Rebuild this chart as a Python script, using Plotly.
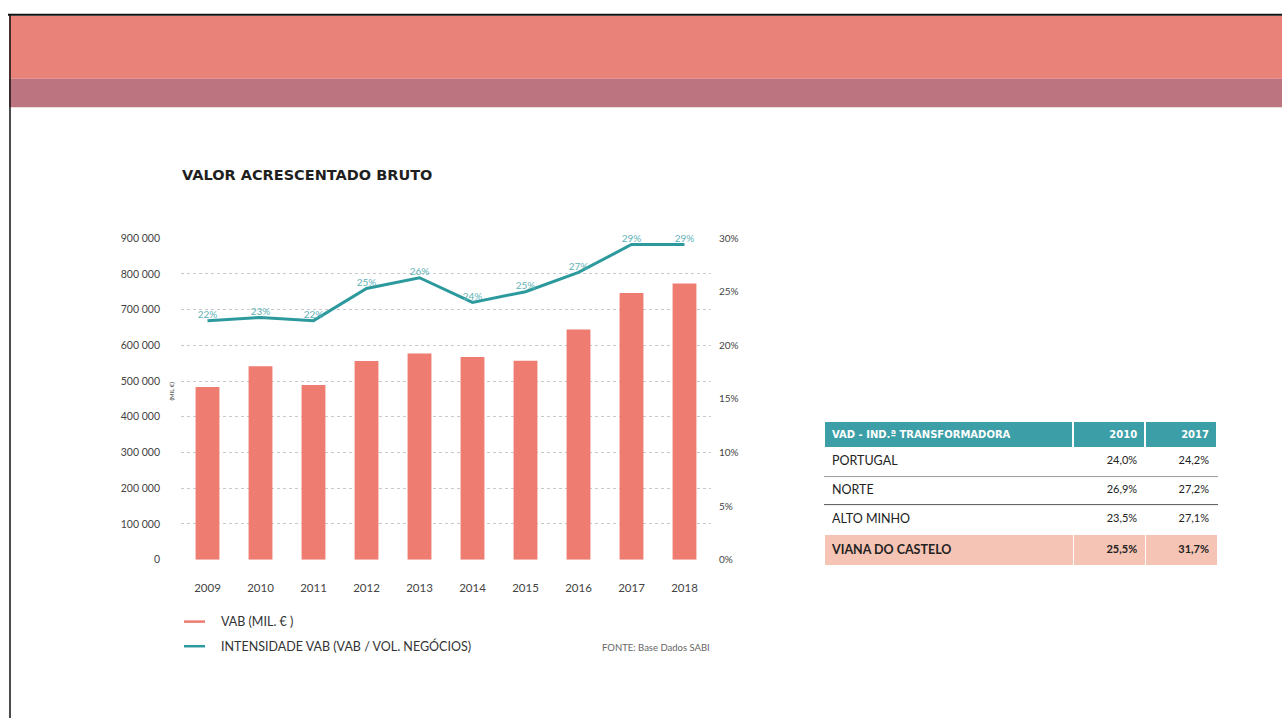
import plotly.graph_objects as go

# ---- data -------------------------------------------------------------
years = ["2009", "2010", "2011", "2012", "2013", "2014", "2015", "2016", "2017", "2018"]
vab_mil_eur = [483000, 541000, 489000, 556000, 577000, 567000, 557000, 644000, 746000, 773000]
intensidade_pct = [22.3, 22.6, 22.3, 25.3, 26.3, 24.0, 25.0, 26.8, 29.4, 29.4]

table_header = ["VAD - IND.ª TRANSFORMADORA", "2010", "2017"]
table_regions = ["PORTUGAL", "NORTE", "ALTO MINHO", "VIANA DO CASTELO"]
table_2010 = ["24,0%", "26,9%", "23,5%", "25,5%"]
table_2017 = ["24,2%", "27,2%", "27,1%", "31,7%"]

# ---- style ------------------------------------------------------------
W, H = 1282, 724
FONT = "Lato"
WIDE = "DejaVu Sans"
BAR = "#EE7C70"
LINE = "#2C9A9D"
LABEL = "#5FB2B7"
TEAL_HEAD = "#3C9FA7"
PINK_ROW = "#F6C4B4"
TEXT = "#333333"


def px(x):
    return x / W


def py(y):
    return 1 - y / H


fig = go.Figure()

fig.add_trace(go.Bar(
    x=years, y=vab_mil_eur, name="VAB (MIL. € )",
    marker=dict(color=BAR, line=dict(width=0)), width=0.45,
    showlegend=False, hoverinfo="x+y",
))

fig.add_trace(go.Scatter(
    x=years, y=intensidade_pct, yaxis="y2", name="INTENSIDADE VAB",
    mode="lines+text", line=dict(color=LINE, width=3),
    text=intensidade_pct, texttemplate="%{y:.0f}%", textposition="top center",
    textfont=dict(family=FONT, size=10, color=LABEL),
    cliponaxis=False, showlegend=False,
))

# side table
cell_fill = ["white", "white", "white", PINK_ROW]
fig.add_trace(go.Table(
    domain=dict(x=[px(824), px(1218)], y=[0, py(422)]),
    columnwidth=[250, 72, 72],
    header=dict(
        values=[f"<b>{h}</b>" for h in table_header],
        fill_color=TEAL_HEAD, line=dict(color="white", width=2),
        align=["left", "right", "right"], height=26,
        font=dict(family=WIDE, size=10, color="white"),
    ),
    cells=dict(
        values=[
            table_regions[:-1] + [f"<b>{table_regions[-1]}</b>"],
            table_2010[:-1] + [f"<b>{table_2010[-1]}</b>"],
            table_2017[:-1] + [f"<b>{table_2017[-1]}</b>"],
        ],
        fill_color=[cell_fill] * 3, line=dict(color="white", width=1),
        align=["left", "right", "right"], height=28.7,
        font=dict(family=FONT, size=[12.5, 11, 11], color="#222222"),
    ),
))

shapes = [
    # page header bands
    dict(type="rect", xref="paper", yref="paper", x0=px(9), x1=1, y0=py(74), y1=py(10),
         fillcolor="#E9837A", line=dict(width=0), layer="below"),
    dict(type="rect", xref="paper", yref="paper", x0=px(9), x1=1, y0=py(103), y1=py(74),
         fillcolor="#BC7580", line=dict(width=0), layer="below"),
    dict(type="line", xref="paper", yref="paper", x0=px(8), x1=1, y0=py(9), y1=py(9),
         line=dict(color="#111111", width=2)),
    dict(type="line", xref="paper", yref="paper", x0=px(10), x1=px(10), y0=py(9), y1=0,
         line=dict(color="#111111", width=1.5)),
    # table row separators
    dict(type="line", xref="paper", yref="paper", x0=px(824), x1=px(1218), y0=py(478.5), y1=py(478.5),
         line=dict(color="#9A9A9A", width=1)),
    dict(type="line", xref="paper", yref="paper", x0=px(824), x1=px(1218), y0=py(507), y1=py(507),
         line=dict(color="#555555", width=1)),
    # legend swatches
    dict(type="line", xref="paper", yref="paper", x0=px(184), x1=px(205), y0=py(626), y1=py(626),
         line=dict(color=BAR, width=2.5)),
    dict(type="line", xref="paper", yref="paper", x0=px(184), x1=px(205), y0=py(651), y1=py(651),
         line=dict(color=LINE, width=2.5)),
]

annotations = [
    dict(text="<b>VALOR ACRESCENTADO BRUTO</b>", x=px(180), y=py(172), xref="paper", yref="paper",
         xanchor="left", yanchor="middle", showarrow=False,
         font=dict(family=WIDE, size=14.5, color="#1F1F1F")),
    dict(text="(MIL €)", x=px(172), y=py(392), xref="paper", yref="paper", textangle=-90,
         xanchor="center", yanchor="middle", showarrow=False,
         font=dict(family=FONT, size=6, color=TEXT)),
    dict(text="VAB (MIL. € )", x=px(219), y=py(626), xref="paper", yref="paper",
         xanchor="left", yanchor="middle", showarrow=False,
         font=dict(family=FONT, size=12.5, color=TEXT)),
    dict(text="INTENSIDADE VAB (VAB / VOL. NEGÓCIOS)", x=px(219), y=py(651), xref="paper", yref="paper",
         xanchor="left", yanchor="middle", showarrow=False,
         font=dict(family=FONT, size=12.5, color=TEXT)),
    dict(text="FONTE: Base Dados SABI", x=px(712), y=py(652), xref="paper", yref="paper",
         xanchor="right", yanchor="middle", showarrow=False,
         font=dict(family=FONT, size=9.5, color="#666666")),
]

fig.update_layout(
    width=W, height=H, margin=dict(l=0, r=0, t=0, b=0),
    paper_bgcolor="white", plot_bgcolor="white",
    separators=", ",
    font=dict(family=FONT, size=10, color=TEXT),
    showlegend=False,
    shapes=shapes, annotations=annotations,
    xaxis=dict(
        domain=[px(181), px(711)], type="category",
        showgrid=False, zeroline=False, showline=False, ticks="",
        tickfont=dict(family=FONT, size=11.5, color="#444444"), ticklabelstandoff=20,
    ),
    yaxis=dict(
        domain=[py(563), py(236)], range=[0, 900000], dtick=100000, tickformat=",d",
        showgrid=True, gridcolor="#C8C8C8", griddash="dot", gridwidth=1,
        zeroline=False, showline=False, ticks="",
        tickfont=dict(family=FONT, size=10.5, color="#444444"), ticklabelstandoff=20,
    ),
    yaxis2=dict(
        overlaying="y", side="right", range=[0, 30], dtick=5, ticksuffix="%",
        showgrid=False, zeroline=False, showline=False, ticks="",
        tickfont=dict(family=FONT, size=10, color="#444444"), ticklabelstandoff=7,
    ),
)

fig.write_html("out.html")
